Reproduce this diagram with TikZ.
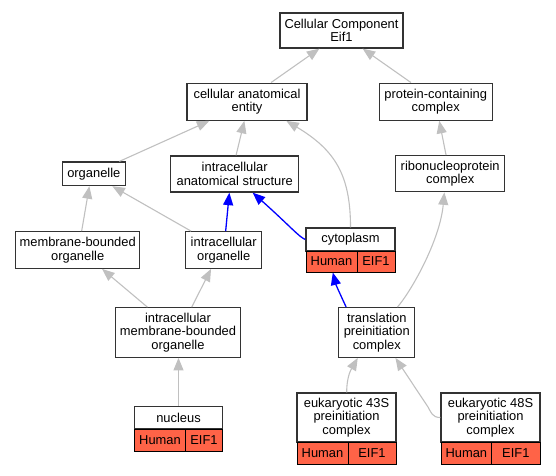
\documentclass[tikz,border=0pt]{standalone}
\usepackage{fontspec}
\setmainfont{Liberation Sans}
\usetikzlibrary{arrows.meta,calc}
\definecolor{tomatoc}{HTML}{FF6347}
\definecolor{edgegray}{HTML}{C0C0C0}
\definecolor{boxline}{HTML}{333333}
\begin{document}
\begin{tikzpicture}[x=1pt,y=-1pt,
  every node/.style={font=\fontsize{12.9}{13.5}\selectfont, inner sep=0pt, align=center},
  box/.style={draw=boxline, line width=1.3pt, fill=white, rectangle},
  cell/.style={draw=black, line width=1pt, fill=tomatoc, rectangle},
  gedge/.style={draw=edgegray, line width=1.1pt, -{Triangle[length=12.5pt,width=10pt]}},
  bedge/.style={draw=blue, line width=1.3pt, -{Triangle[length=12.5pt,width=10pt]}}]
\useasboundingbox (0,0) rectangle (556,475);
% nodes
\node[box, minimum width=123pt, minimum height=35pt] (cc) at (341.5,30.5) {Cellular Component\\Eif1};
\node[box, minimum width=120pt, minimum height=37pt] (cae) at (247,101.7) {cellular anatomical\\entity};
\node[box, minimum width=113pt, minimum height=37pt] (pcc) at (435.7,101.7) {protein-containing\\complex};
\node[box, minimum width=63pt, minimum height=23.5pt] (org) at (93.8,173.8) {organelle};
\node[box, minimum width=128pt, minimum height=36pt] (ias) at (234.7,174) {intracellular\\anatomical structure};
\node[box, minimum width=109pt, minimum height=36pt] (rnp) at (450.2,173.7) {ribonucleoprotein\\complex};
\node[box, minimum width=124pt, minimum height=36.5pt] (mbo) at (77.7,250) {membrane-bounded\\organelle};
\node[box, minimum width=76pt, minimum height=36.5pt] (io) at (223.7,250) {intracellular\\organelle};
\node[box, minimum width=89pt, minimum height=23pt] (cyto) at (350.5,239.5) {cytoplasm};
\node[cell, minimum width=51pt, minimum height=21pt] (cytoH) at (331.5,261.5) {Human};
\node[cell, minimum width=38pt, minimum height=21pt] (cytoE) at (376,261.5) {EIF1};
\node[box, minimum width=124.5pt, minimum height=49.5pt] (imbo) at (178,332.5) {intracellular\\membrane-bounded\\organelle};
\node[box, minimum width=76pt, minimum height=49.5pt] (tpc) at (376.8,332.5) {translation\\preinitiation\\complex};
\node[box, minimum width=88pt, minimum height=22.5pt] (nuc) at (178.5,417.75) {nucleus};
\node[cell, minimum width=51pt, minimum height=22pt] (nucH) at (160,440) {Human};
\node[cell, minimum width=37pt, minimum height=22pt] (nucE) at (204,440) {EIF1};
\node[box, minimum width=99pt, minimum height=49pt] (e43) at (346.5,417.5) {eukaryotic 43S\\preinitiation\\complex};
\node[cell, minimum width=51pt, minimum height=22pt] (e43H) at (322.5,453) {Human};
\node[cell, minimum width=48pt, minimum height=22pt] (e43E) at (372,453) {EIF1};
\node[box, minimum width=99pt, minimum height=49pt] (e48) at (490.5,417.5) {eukaryotic 48S\\preinitiation\\complex};
\node[cell, minimum width=50.7pt, minimum height=22pt] (e48H) at (466.35,453) {Human};
\node[cell, minimum width=48.3pt, minimum height=22pt] (e48E) at (515.85,453) {EIF1};
% gray edges
\draw[gedge] ([xshift=84.7pt]cae.north west) -- ([xshift=40pt]cc.south west);
\draw[gedge] ([xshift=32.4pt]pcc.north west) -- ([xshift=83.3pt]cc.south west);
\draw[gedge] ([xshift=57.7pt]org.north west) -- ([xshift=23pt]cae.south west);
\draw[gedge] ([xshift=66pt]ias.north west) -- ([xshift=58pt]cae.south west);
\draw[gedge] (cyto.north) .. controls (350.5,175) and (335,150) .. ([xshift=100pt]cae.south west);
\draw[gedge] ([xshift=51pt]rnp.north west) -- ([xshift=60.7pt]pcc.south west);
\draw[gedge] ([xshift=66.6pt]mbo.north west) -- ([xshift=27.7pt]org.south west);
\draw[gedge] ([xshift=6pt]io.north west) -- ([xshift=50.7pt]org.south west);
\draw[gedge] ([xshift=59.3pt]tpc.north west) .. controls (412,290) and (440,240) .. ([xshift=49.3pt]rnp.south west);
\draw[gedge] ([xshift=32.3pt]imbo.north west) -- ([xshift=87pt]mbo.south west);
\draw[gedge] ([xshift=76.6pt]imbo.north west) -- ([xshift=26pt]io.south west);
\draw[gedge] (nuc.north) -- (nuc.north |- imbo.south);
\draw[gedge] ([xshift=0.2pt]e43.north) .. controls (346.7,375) and (352,368) .. ([xshift=19.6pt]tpc.south west);
\draw[gedge] (e48.west) .. controls (432,417.5) and (431,412) .. (428,407) -- ([xshift=57.3pt]tpc.south west);
% blue edges
\draw[bedge] ([xshift=40.6pt]io.north west) -- ([xshift=59.3pt]ias.south west);
\draw[bedge] (cyto.west) .. controls (299,237) and (290,226) .. ([xshift=82.6pt]ias.south west);
\draw[bedge] ([xshift=8pt]tpc.north west) .. controls (341,296) and (336,285) .. ([xshift=27.3pt]cytoH.south west);
\end{tikzpicture}
\end{document}
